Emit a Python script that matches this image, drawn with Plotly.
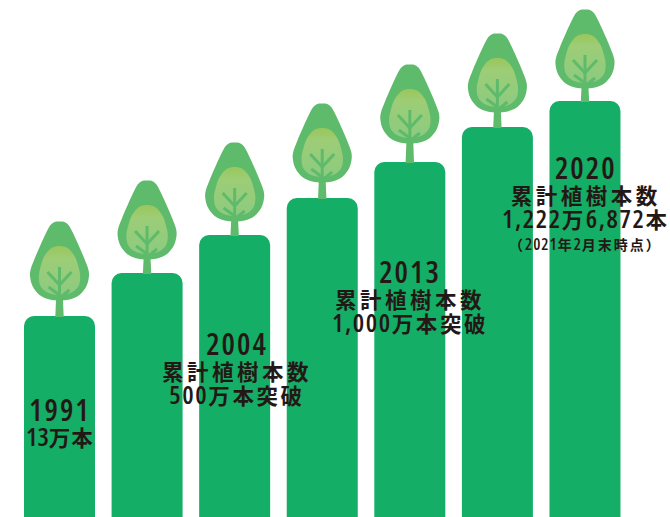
import re
import plotly.graph_objects as go

# Planting steps, left to right, and the height of each column
steps = [0, 1, 2, 3, 4, 5, 6]
column_heights = [201, 244, 282, 319, 355, 390, 416]

# Milestones written over the columns
milestone_years = ["1991", "2004", "2013", "2020"]
milestone_titles = [None, "累計植樹本数", "累計植樹本数", "累計植樹本数"]
milestone_counts = ["13万本", "500万本突破", "1,000万本突破", "1,222万6,872本"]
count_note = "（2021年2月末時点）"

# Caption placement: centre x and vertical middle of each block, in px from the top-left
caption_x = [60, 237, 410, 586]
caption_mid = [421, 367, 295, 191]

BAR_GREEN = "#14ae66"
LEAF_GREEN = "#5fbb6c"
INK = "#231815"
FONT = "'Open Sans', Roboto, 'Noto Sans CJK JP', sans-serif"

PITCH = 87.58
X_ORIGIN = 59.5
WIDTH, HEIGHT = 670, 517


def px_to_x(px):
    return (px - X_ORIGIN) / PITCH


# Crown outlines as half-widths above the column top
crown_right = [(0, 94.5), (5, 94), (9, 91), (13, 84), (19, 71), (25, 57), (29, 46),
               (29.5, 40), (27, 30), (20, 21), (10, 16.5), (0, 15.5)]
inner_right = [(0, 70), (8, 68), (15, 60), (19, 49), (20.7, 39), (19, 30), (13, 24), (0, 21)]
branch_segments = [
    [(0, 49), (0, 15)],
    [(0, 31), (-12, 44)],
    [(0, 31), (12, 44)],
    [(0, 21), (-11, 29)],
    [(0, 18), (10, 26)],
]
tree_shift = [0, -2, -2, 0, 3, -1, -3]

fig = go.Figure()

fig.add_trace(go.Bar(
    x=steps, y=column_heights, width=71 / PITCH,
    marker=dict(color=BAR_GREEN, line=dict(width=0), cornerradius=10),
    hoverinfo="skip",
))


def mirrored(points):
    return points + [(-dx, dy) for dx, dy in reversed(points[:-1])]


for step, top, shift in zip(steps, column_heights, tree_shift):
    cx = X_ORIGIN + step * PITCH
    # Stem joins the crown to the column
    fig.add_trace(go.Scatter(
        x=[px_to_x(cx + d) for d in (-3.4, 3.4, 4.2, -4.2)],
        y=[top + 18 + shift, top + 18 + shift, top - 1, top - 1],
        mode="lines", fill="toself", fillcolor=LEAF_GREEN, line=dict(width=0), hoverinfo="skip",
    ))
    crown = mirrored(crown_right)
    fig.add_trace(go.Scatter(
        x=[px_to_x(cx + d[0]) for d in crown], y=[top + d[1] + shift for d in crown],
        mode="lines", fill="toself", fillcolor=LEAF_GREEN,
        line=dict(width=0, shape="spline", smoothing=1), hoverinfo="skip",
    ))
    inner = mirrored(inner_right)
    fig.add_trace(go.Scatter(
        x=[px_to_x(cx + d[0]) for d in inner], y=[top + d[1] + shift for d in inner],
        mode="lines", fill="toself",
        fillgradient=dict(type="vertical", colorscale=[[0, "#8ccb80"], [0.75, "#9dcd76"], [1, "#9ac65a"]]),
        line=dict(width=0, shape="spline", smoothing=1), hoverinfo="skip",
    ))
    for seg in branch_segments:
        fig.add_trace(go.Scatter(
            x=[px_to_x(cx + p[0]) for p in seg], y=[top + p[1] + shift for p in seg],
            mode="lines", line=dict(color=LEAF_GREEN, width=3), hoverinfo="skip",
        ))


def span(text, size, spacing):
    return (f'<span style="font-size:{size}px;font-stretch:75%;'
            f'letter-spacing:{spacing}px">{text}</span>')


def mixed(text, kanji_size, kanji_gap, digit_size, digit_gap):
    # Figures are set larger than the kanji so both reach the same height
    runs = re.findall(r"[0-9,]+|[^0-9,]+", text)
    return "".join(
        span(r, digit_size, digit_gap) if r[0] in "0123456789," else span(r, kanji_size, kanji_gap)
        for r in runs
    )


for year, title, count, x_px, mid in zip(milestone_years, milestone_titles, milestone_counts, caption_x, caption_mid):
    lines = [span(year, 30, 2)]
    if title:
        lines.append(span(title, 21.5, 3.5))
    lines.append(mixed(count, 21.5, 2.6 if title else 1, 25.5, 1.6 if title else 0))
    fig.add_annotation(
        x=px_to_x(x_px), y=HEIGHT - mid, xref="x", yref="y",
        text="<br>".join(lines), align="center",
        showarrow=False, xanchor="center", yanchor="middle",
        font=dict(family=FONT, size=19, color=INK, weight=600),
    )

fig.add_annotation(
    x=px_to_x(585), y=HEIGHT - 244, xref="x", yref="y",
    text=mixed(count_note, 14, 2, 16, 1), showarrow=False, xanchor="center", yanchor="middle",
    font=dict(family=FONT, size=14, color=INK, weight=600),
)

fig.update_layout(
    width=WIDTH, height=HEIGHT, autosize=False, showlegend=False,
    margin=dict(l=0, r=0, t=0, b=0),
    paper_bgcolor="white", plot_bgcolor="white",
    xaxis=dict(range=[px_to_x(0), px_to_x(WIDTH)], visible=False),
    yaxis=dict(range=[0, HEIGHT], visible=False),
)

fig.write_html("out.html", config=dict(displayModeBar=False))
